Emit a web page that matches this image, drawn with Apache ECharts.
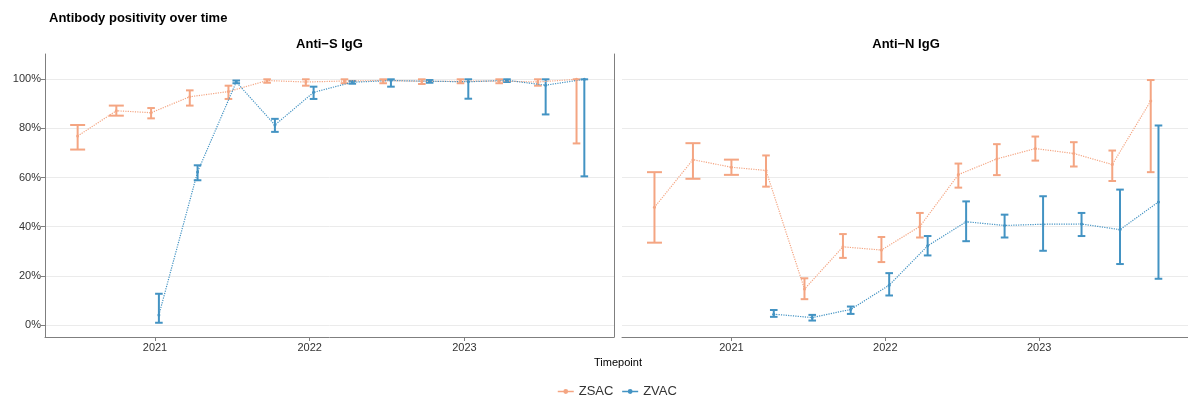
<!DOCTYPE html>
<html>
<head>
<meta charset="utf-8">
<script src="https://cdn.jsdelivr.net/npm/echarts@6/dist/echarts.min.js"></script>
<style>
html, body { margin: 0; padding: 0; background: #fff; }
#chart { width: 1188px; height: 401px; }
</style>
</head>
<body>
<div id="chart"></div>
<script>
// quarterly timepoints (decimal years)
var timepoints = [2020.5, 2020.75, 2021, 2021.25, 2021.5, 2021.75, 2022, 2022.25, 2022.5, 2022.75, 2023, 2023.25, 2023.5, 2023.75];
var yearTicks = [2021, 2022, 2023];
var pctTicks = [0, 20, 40, 60, 80, 100];

// Anti-S IgG, % positive with CI bounds (null = no samples)
var antiS_zsac    = [76.9, 87.2, 86.4, 92.9, 95.0, 99.5, 98.9, 99.3, 99.5, 99.2, 99.2, 99.3, 98.9, 100];
var antiS_zsac_lo = [71.4, 85.2, 84.1, 89.3, 92.0, 98.6, 97.4, 98.4, 98.4, 98.1, 98.4, 98.4, 97.4, 73.9];
var antiS_zsac_hi = [81.4, 89.3, 88.3, 95.5, 97.4, 100, 100, 100, 100, 100, 100, 100, 100, 100];
var antiS_zvac    = [null, null, 4.1, 62.3, 98.9, 81.4, 94.7, 98.8, 99.5, 99.2, 99.0, 99.6, 97.6, 100];
var antiS_zvac_lo = [null, null, 0.9, 58.9, 98.4, 78.6, 92.0, 98.2, 97.0, 98.6, 92.1, 98.9, 85.7, 60.5];
var antiS_zvac_hi = [null, null, 12.7, 65.0, 99.5, 83.9, 97.0, 99.3, 100, 99.7, 100, 100, 100, 100];

// Anti-N IgG
var antiN_zsac    = [47.9, 67.3, 64.2, 62.9, 14.6, 31.8, 30.5, 40.1, 61.2, 67.6, 71.8, 69.8, 65.3, 91.2];
var antiN_zsac_lo = [33.5, 59.5, 61.1, 56.3, 10.5, 27.3, 25.6, 35.6, 55.9, 61.0, 66.9, 64.5, 58.6, 62.2];
var antiN_zsac_hi = [62.2, 74.0, 67.3, 69.0, 19.0, 37.0, 35.8, 45.6, 65.7, 73.6, 76.7, 74.4, 71.0, 99.7];
var antiN_zvac    = [null, null, null, 4.4, 3.0, 6.3, 16.2, 32.2, 42.0, 40.5, 41.0, 41.1, 38.8, 50.1];
var antiN_zvac_lo = [null, null, null, 3.3, 1.8, 4.5, 12.0, 28.3, 34.1, 35.6, 30.2, 36.2, 24.8, 18.8];
var antiN_zvac_hi = [null, null, null, 6.1, 4.1, 7.5, 21.1, 36.2, 50.3, 44.9, 52.4, 45.6, 55.1, 81.2];

var colZSAC = '#F4A582';
var colZVAC = '#4393C3';
var dodge = 0.0252;   // years, ~4px
var xMin = 2020.289, xMax = 2023.967;

// builds [x, value, lo, hi, capHalf] with ggplot-like dodging
function build(vals, lo, hi, other, side) {
    var out = [];
    for (var i = 0; i < timepoints.length; i++) {
        if (vals[i] == null) continue;
        var both = other[i] != null;
        var x = timepoints[i] + (both ? side * dodge : 0);
        out.push([x, vals[i], lo[i], hi[i], both ? 3.8 : 7.5]);
    }
    return out;
}

function renderBar(params, api) {
    var x = api.value(0);
    var top = api.coord([x, api.value(3)]);
    var bot = api.coord([x, api.value(2)]);
    var h = api.value(4);
    var st = { stroke: api.visual('color'), lineWidth: 2 };
    return {
        type: 'group',
        children: [
            { type: 'line', shape: { x1: top[0], y1: top[1], x2: bot[0], y2: bot[1] }, style: st },
            { type: 'line', shape: { x1: top[0] - h, y1: top[1], x2: top[0] + h, y2: top[1] }, style: st },
            { type: 'line', shape: { x1: bot[0] - h, y1: bot[1], x2: bot[0] + h, y2: bot[1] }, style: st }
        ]
    };
}

var panels = [
    { z: build(antiS_zsac, antiS_zsac_lo, antiS_zsac_hi, antiS_zvac, -1),
      v: build(antiS_zvac, antiS_zvac_lo, antiS_zvac_hi, antiS_zsac, 1) },
    { z: build(antiN_zsac, antiN_zsac_lo, antiN_zsac_hi, antiN_zvac, -1),
      v: build(antiN_zvac, antiN_zvac_lo, antiN_zvac_hi, antiN_zsac, 1) }
];

var lineSeries = [], barSeries = [];
panels.forEach(function (p, k) {
    [['ZSAC', p.z, colZSAC], ['ZVAC', p.v, colZVAC]].forEach(function (s) {
        lineSeries.push({
            name: s[0], type: 'line', xAxisIndex: k, yAxisIndex: k,
            data: s[1].map(function (d) { return [d[0], d[1]]; }),
            symbol: 'circle', symbolSize: 3, showSymbol: true,
            itemStyle: { color: s[2] },
            lineStyle: { color: s[2], width: 1.2, type: 'dotted' },
            z: 3, silent: true
        });
        barSeries.push({
            name: s[0], type: 'custom', xAxisIndex: k, yAxisIndex: k,
            data: s[1], renderItem: renderBar,
            encode: { x: 0, y: [2, 3] },
            itemStyle: { color: s[2] }, z: 2, silent: true
        });
    });
});

var font = 'Liberation Sans, Arial, sans-serif';
var xAxisBase = {
    type: 'value', min: xMin, max: xMax,
    axisLine: { show: true, onZero: false, lineStyle: { color: '#7f7f7f', width: 1 } },
    axisTick: { show: true, length: 4, customValues: yearTicks, lineStyle: { color: '#7f7f7f' } },
    axisLabel: { customValues: yearTicks, color: '#333', fontSize: 11, fontFamily: font, margin: 5,
                 formatter: function (v) { return String(v); } },
    splitLine: { show: false }
};
var yAxisBase = {
    type: 'value', min: -4.9, max: 110.3,
    axisTick: { show: true, length: 4, customValues: pctTicks, lineStyle: { color: '#7f7f7f' } },
    axisLabel: { customValues: pctTicks, color: '#333', fontSize: 11, fontFamily: font, margin: 4,
                 formatter: '{value}%' },
    splitLine: { show: true, lineStyle: { color: '#ebebeb', width: 1 } }
};

var myChart = echarts.init(document.getElementById('chart'));
var option = {
    animation: false,
    backgroundColor: '#fff',
    title: {
        text: 'Antibody positivity over time', left: 44, top: 7,
        textStyle: { fontSize: 13, fontWeight: 'bold', color: '#000', fontFamily: font }
    },
    legend: {
        data: ['ZSAC', 'ZVAC'], left: 557, top: 385, padding: 0,
        itemWidth: 16, itemHeight: 6, itemGap: 8,
        lineStyle: { type: 'solid', width: 1.5 },
        textStyle: { fontSize: 13, color: '#333', fontFamily: font }
    },
    grid: [
        { left: 45, top: 54, width: 569, height: 283 },
        { left: 622, top: 54, width: 569, height: 283 }
    ],
    xAxis: [
        Object.assign({}, xAxisBase, { gridIndex: 0 }),
        Object.assign({}, xAxisBase, { gridIndex: 1 })
    ],
    yAxis: [
        Object.assign({}, yAxisBase, { gridIndex: 0,
            axisLine: { show: true, onZero: false, lineStyle: { color: '#7f7f7f', width: 1 } } }),
        Object.assign({}, yAxisBase, { gridIndex: 1,
            axisLine: { show: false }, axisTick: { show: false, customValues: pctTicks },
            axisLabel: { show: false, customValues: pctTicks } }),
        // right border of the left panel
        { type: 'value', gridIndex: 0, position: 'right', min: -4.9, max: 110.3,
          axisLine: { show: true, onZero: false, lineStyle: { color: '#7f7f7f', width: 1 } },
          axisTick: { show: false }, axisLabel: { show: false }, splitLine: { show: false } }
    ],
    graphic: [
        { type: 'text', x: 329.5, y: 44, style: { text: 'Anti\u2212S IgG', align: 'center', verticalAlign: 'middle',
            font: 'bold 13px ' + font, fill: '#000' } },
        { type: 'text', x: 906, y: 44, style: { text: 'Anti\u2212N IgG', align: 'center', verticalAlign: 'middle',
            font: 'bold 13px ' + font, fill: '#000' } },
        { type: 'text', x: 618, y: 363, style: { text: 'Timepoint', align: 'center', verticalAlign: 'middle',
            font: '11px ' + font, fill: '#000' } }
    ],
    series: lineSeries.concat(barSeries)
};
myChart.setOption(option);
</script>
</body>
</html>
